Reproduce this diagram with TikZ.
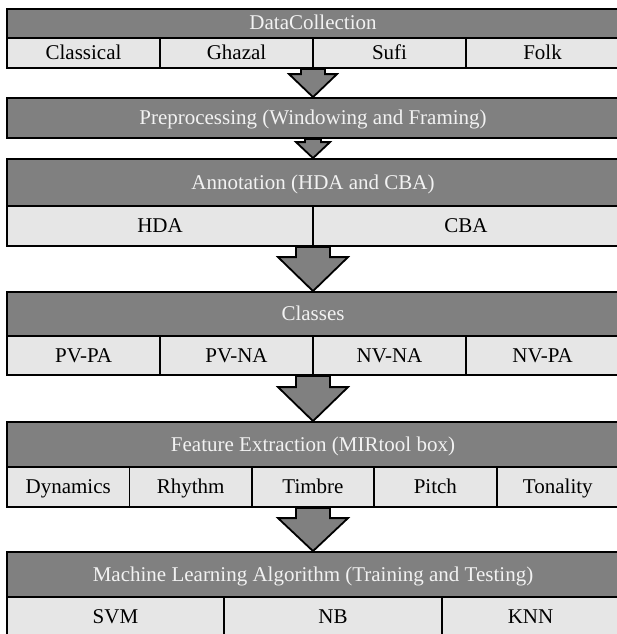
\documentclass[tikz,border=0pt]{standalone}
\usepackage{fontspec}
\setmainfont{Liberation Serif}
\usetikzlibrary{calc}

\definecolor{bandgray}{RGB}{128,128,128}
\definecolor{cellgray}{RGB}{230,230,230}
\definecolor{titletext}{RGB}{242,242,242}

\tikzset{
  band/.style={draw=black, fill=bandgray, text=titletext, line width=1.8pt,
    minimum width=612pt, inner sep=0pt, text height=16pt, text depth=3pt,
    font=\fontsize{21}{24}\selectfont},
  cell/.style={draw=black, fill=cellgray, line width=1.8pt, inner sep=0pt,
    text height=16pt, text depth=3pt, font=\fontsize{21}{24}\selectfont},
  arrowbox/.style={draw=black, fill=bandgray, line width=1.8pt, line join=miter}
}

% #1 from, #2 to, #3 half shaft, #4 half head, #5 head length
\newcommand{\flowarrow}[5]{%
  \draw[arrowbox] ($(#1)+(-#3,0)$) -- ($(#2)+(-#3,-#5)$) -- ($(#2)+(-#4,-#5)$)
    -- (#2) -- ($(#2)+(#4,-#5)$) -- ($(#2)+(#3,-#5)$) -- ($(#1)+(#3,0)$) -- cycle;}

\begin{document}
\begin{tikzpicture}[x=1pt, y=-1pt]
  \useasboundingbox (0,0) rectangle (617,634);

  % data collection
  \node[band, minimum height=29pt] (t1) at (313,23.5) {DataCollection};
  \foreach \lab [count=\i] in {Classical, Ghazal, Sufi, Folk}
  {
    \node[cell, minimum width=153pt, minimum height=30pt] (c1-\i) at ({7+153*(\i-0.5)},53) {\lab};
  }
  \coordinate (b1) at (t1.south |- c1-1.south);

  % preprocessing
  \node[band, minimum height=40pt] (t2) at (313,118) {Preprocessing (Windowing and Framing)};

  % annotation
  \node[band, minimum height=47pt] (t3) at (313,182.5) {Annotation (HDA and CBA)};
  \foreach \lab [count=\i] in {HDA, CBA}
  {
    \node[cell, minimum width=306pt, minimum height=40pt] (c3-\i) at ({7+306*(\i-0.5)},226) {\lab};
  }
  \coordinate (b3) at (t3.south |- c3-1.south);

  % classes
  \node[band, minimum height=44pt] (t4) at (313,314) {Classes};
  \foreach \lab [count=\i] in {PV-PA, PV-NA, NV-NA, NV-PA}
  {
    \node[cell, minimum width=153pt, minimum height=39pt] (c4-\i) at ({7+153*(\i-0.5)},355.5) {\lab};
  }
  \coordinate (b4) at (t4.south |- c4-1.south);

  % features
  \node[band, minimum height=45pt] (t5) at (313,444.5) {Feature Extraction (MIRtool box)};
  \foreach \lab [count=\i] in {Dynamics, Rhythm, Timbre, Pitch, Tonality}
  {
    \node[cell, minimum width=122.4pt, minimum height=40pt] (c5-\i) at ({7+122.4*(\i-0.5)},487) {\lab};
  }
  \coordinate (b5) at (t5.south |- c5-1.south);

  % learning
  \node[band, minimum height=45pt] (t6) at (313,574.5) {Machine Learning Algorithm (Training and Testing)};
  \foreach \lab/\xa/\xb [count=\i] in {SVM/7/224, NB/224/442, KNN/442/619}
  {
    \node[cell, minimum width={(\xb-\xa)*1pt}, minimum height=39pt] (c6-\i) at ({(\xa+\xb)/2},616.5) {\lab};
  }

  \flowarrow{b1}{t2.north}{12}{24}{23}
  \flowarrow{t2.south}{t3.north}{8}{17}{16}
  \flowarrow{b3}{t4.north}{17}{35}{34}
  \flowarrow{b4}{t5.north}{17}{35}{34}
  \flowarrow{b5}{t6.north}{17}{35}{33}
\end{tikzpicture}
\end{document}
